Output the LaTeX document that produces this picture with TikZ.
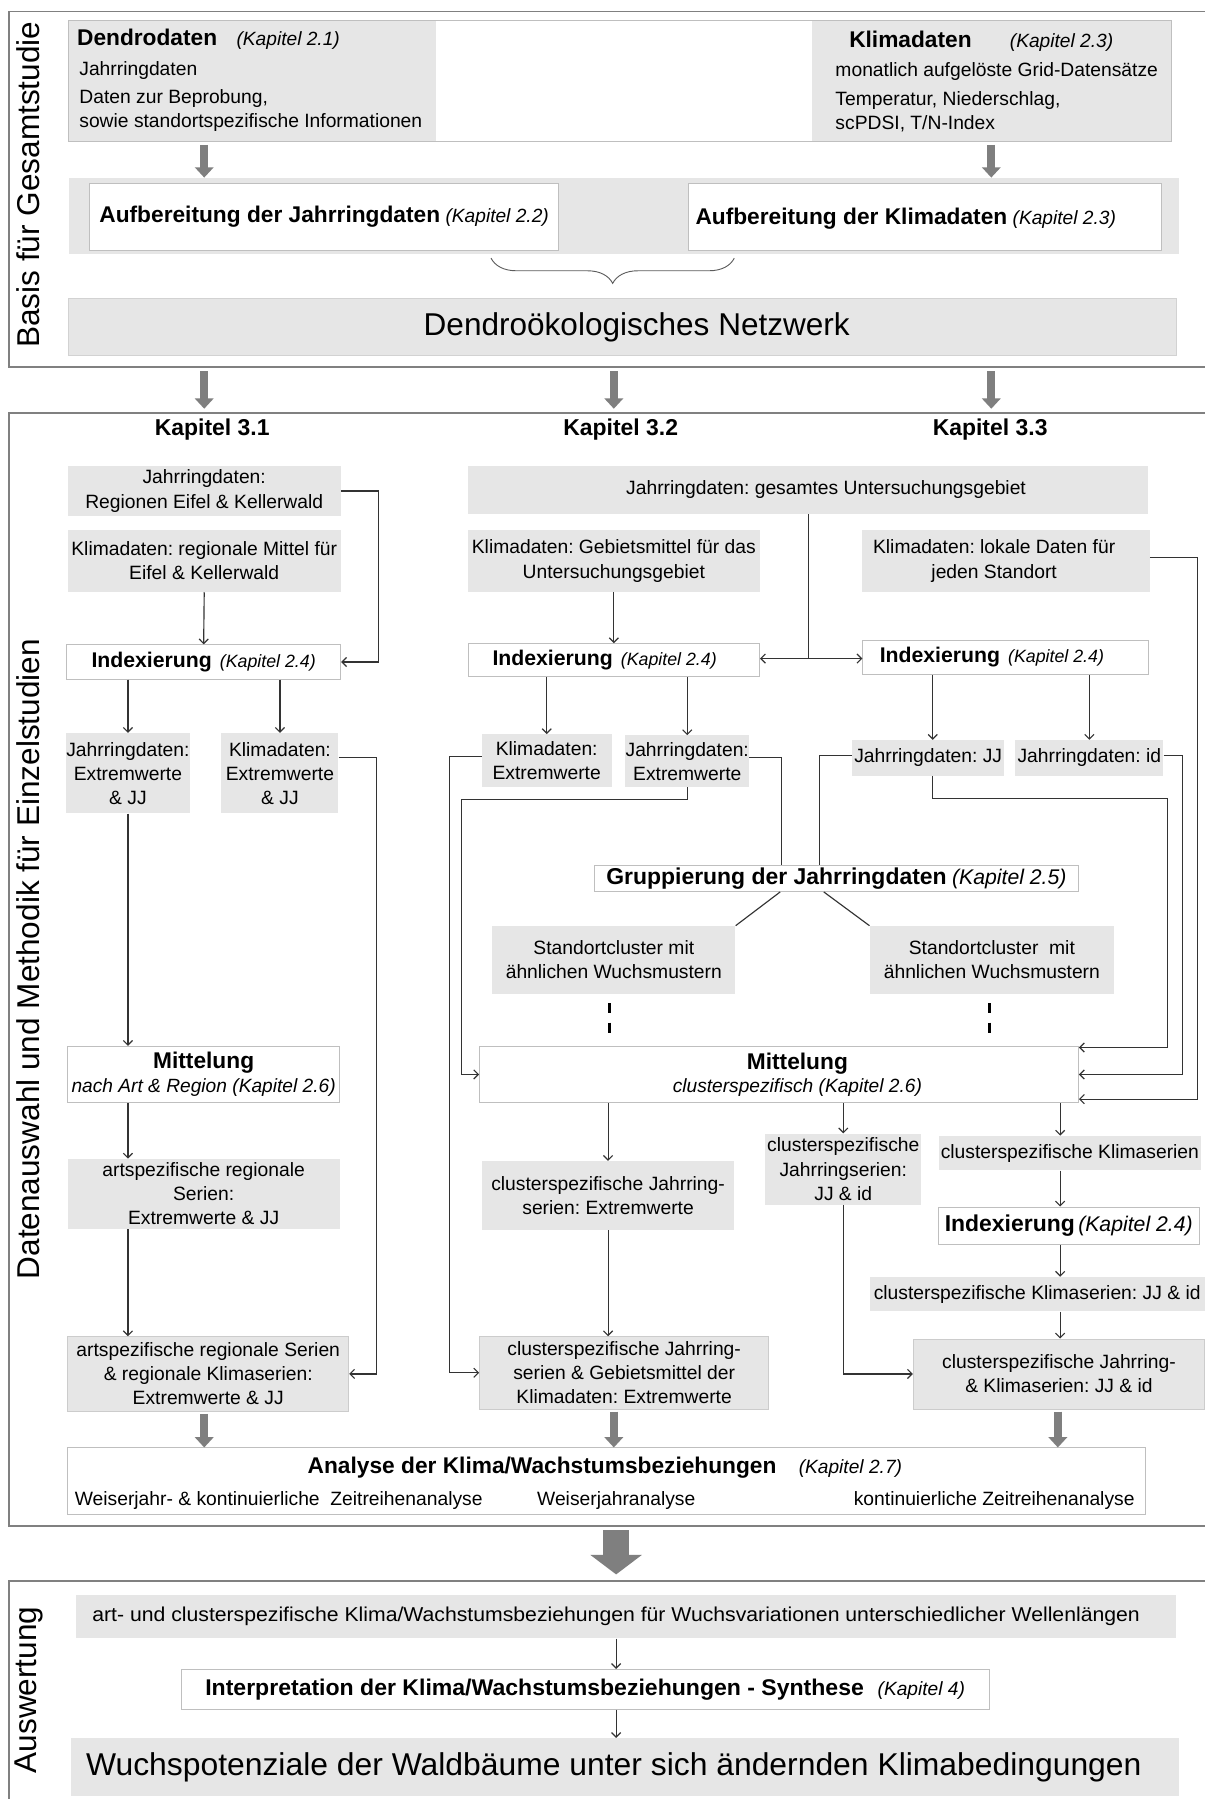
\documentclass[tikz,border=0pt]{standalone}
\usepackage{fontspec}
\setmainfont{Liberation Sans}
\usepackage{graphicx}
\usetikzlibrary{arrows.meta,decorations.pathreplacing,calc}
\definecolor{boxgray}{HTML}{E6E6E6}
\definecolor{framegray}{HTML}{808080}
\definecolor{arrgray}{HTML}{7F7F7F}
\definecolor{lineD}{HTML}{333333}
\definecolor{wborder}{HTML}{BFBFBF}
\newcommand\fsN{\fontsize{16.8}{21}\selectfont}
\newcommand\fsB{\fontsize{19.8}{23}\selectfont\bfseries}
\newcommand\fsK{\fontsize{16.7}{21}\selectfont\itshape}
\newcommand\mykap[1]{{\fsK(Kapitel #1)}}
\newcommand\idxtext{{\fontsize{18.5}{22}\selectfont\bfseries Indexierung}\hspace{7pt}{\fontsize{15.5}{20}\selectfont\itshape(Kapitel 2.4)}}
\frenchspacing
\begin{document}
\frenchspacing
\begin{tikzpicture}[x=1pt,y=-1pt,
  gbox/.style={fill=boxgray, draw=none, inner sep=0pt, align=center, font=\fsN},
  gboxb/.style={gbox, draw=wborder!80, line width=0.7pt},
  wbox/.style={fill=white, draw=wborder, line width=0.8pt, inner sep=0pt, align=center, font=\fsN},
  frame/.style={draw=framegray, line width=1.5pt, inner sep=0pt},
  conn/.style={draw=lineD, line width=1pt},
  arr/.style={conn, -{Straight Barb[length=4pt,width=8pt]}},
  thickarr/.style={draw=arrgray, line width=7pt, -{Triangle[length=9pt,width=16pt]}},
  bigarr/.style={draw=arrgray, line width=22pt, -{Triangle[length=17pt,width=44pt]}},
  txt/.style={inner sep=0pt, anchor=base west, font=\fsN},
  vlabel/.style={rotate=90, inner sep=0pt, font=\fontsize{27.5}{30}\selectfont},
  dashv/.style={draw=black, line width=2.5pt, dash pattern=on 9pt off 8pt},
]
\useasboundingbox (0,0) rectangle (1050,1568);
\fill[white] (0,0) rectangle (1050,1568);

% frames
\node[frame, minimum width=1044pt, minimum height=310pt] (frame1) at (530,165) {};
\node[frame, minimum width=1044pt, minimum height=970pt] (frame2) at (530,845) {};
\node[frame, minimum width=1044pt, minimum height=210pt] (frame3) at (530,1483) {};
\node[vlabel] (lab1) at (25,161) {Basis für Gesamtstudie};
\node[vlabel] (lab2) at (25,836) {Datenauswahl und Methodik für Einzelstudien};
\node[vlabel] (lab3) at (25,1473) {Auswertung};

\coordinate (colA) at (178,0);
\coordinate (colB) at (535,0);
\coordinate (colC) at (864,0);
\coordinate (colC2) at (922,0);
\coordinate (colM) at (537,0);
\coordinate (colR) at (924,0);

% ---------- top section
\node[gbox, minimum width=320pt, minimum height=105pt] (dendro) at (220,70.5) {};
\node[gbox, minimum width=313pt, minimum height=105pt] (klima) at (864.5,70.5) {};
\node[draw=wborder, line width=0.8pt, minimum width=961pt, minimum height=105pt, inner sep=0pt] (topbox) at (540.5,70.5) {};
\node[txt, font=\fsB] (dendroT) at (67,40) {Dendrodaten};
\node[txt, font=\fsK] (dendroK) at (206,40) {(Kapitel 2.1)};
\node[txt] (dendro1) at (69,66) {Jahrringdaten};
\node[txt] (dendro2) at (69,90) {Daten zur Beprobung,};
\node[txt] (dendro3) at (69,111) {sowie standortspezifische Informationen};
\node[txt, font=\fsB] (klimaT) at (740,41) {Klimadaten};
\node[txt, font=\fsK] (klimaK) at (880,41) {(Kapitel 2.3)};
\node[txt] (klima1) at (728,67) {monatlich aufgelöste Grid-Datensätze};
\node[txt] (klima2) at (728,92) {Temperatur, Niederschlag,};
\node[txt] (klima3) at (728,113) {scPDSI, T/N-Index};

\node[gbox, minimum width=968pt, minimum height=66pt] (band) at (544,188) {};
\node[wbox, minimum width=409pt, minimum height=58pt] (aufJ) at (282.5,189) {\raisebox{-2pt}{{\fsB Aufbereitung der Jahrringdaten} \mykap{2.2}}};
\node[wbox, minimum width=412pt, minimum height=58pt] (aufK) at (806,189) {};
\node[txt] (aufKt) at (606,196) {{\fsB Aufbereitung der Klimadaten} \mykap{2.3}};

\draw[thickarr] ($(dendro.south -| colA)+(0,3)$) -- (band.north -| colA);
\draw[thickarr] ($(klima.south -| colC)+(0,3)$) -- (band.north -| colC);

\coordinate (brL) at (428,225);
\coordinate (brR) at (640,225);
\draw[draw=lineD!80, line width=0.8pt, decorate, decoration={brace, mirror, amplitude=22pt}] (brL) -- (brR);

\node[gbox, draw=wborder!70, line width=0.7pt, minimum width=965pt, minimum height=50pt] (netz) at (542.5,285) {};
\node[inner sep=0pt, font=\fontsize{27.5}{30}\selectfont] (netzT) at (555,285) {Dendroökologisches Netzwerk};

\draw[thickarr] ($(frame1.south -| colA)+(0,3)$) -- ($(frame2.north -| colA)+(0,-3)$);
\draw[thickarr] ($(frame1.south -| colB)+(0,3)$) -- ($(frame2.north -| colB)+(0,-3)$);
\draw[thickarr] ($(frame1.south -| colC)+(0,3)$) -- ($(frame2.north -| colC)+(0,-3)$);

% ---------- section 2
\node[font=\fontsize{20}{24}\selectfont\bfseries, anchor=base, inner sep=0pt] (k31) at (185,380) {Kapitel 3.1};
\node[font=\fontsize{20}{24}\selectfont\bfseries, anchor=base, inner sep=0pt] (k32) at (541,380) {Kapitel 3.2};
\node[font=\fontsize{20}{24}\selectfont\bfseries, anchor=base, inner sep=0pt] (k33) at (863,380) {Kapitel 3.3};

% column 1
\node[gbox, minimum width=238pt, minimum height=44pt] (c1jahr) at (178,428) {Jahrringdaten:\\Regionen Eifel \& Kellerwald};
\node[gbox, minimum width=238pt, minimum height=54pt] (c1klima) at (178,489) {Klimadaten: regionale Mittel für\\Eifel \& Kellerwald};
\node[wbox, minimum width=239pt, minimum height=30pt] (c1idx) at (177.5,577) {\idxtext};
\node[gbox, minimum width=107pt, minimum height=70pt] (c1jx) at (111.5,674) {Jahrringdaten:\\Extremwerte\\\& JJ};
\node[gbox, minimum width=102pt, minimum height=70pt] (c1kx) at (244,674) {Klimadaten:\\Extremwerte\\\& JJ};
\node[wbox, minimum width=237pt, minimum height=49pt] (c1mit) at (177.5,936.5) {{\fsB Mittelung}\\{\fsK nach Art \& Region (Kapitel 2.6)}};
\node[gbox, minimum width=237pt, minimum height=61pt] (c1art) at (177.5,1040.5) {artspezifische regionale\\Serien:\\Extremwerte \& JJ};
\node[gboxb, minimum width=245pt, minimum height=65pt] (c1fin) at (181.5,1197.5) {artspezifische regionale Serien\\\& regionale Klimaserien:\\Extremwerte \& JJ};

\draw[arr] (c1jahr.east) -- ++(33,0) |- (c1idx.east);
\draw[arr] (c1klima.south) -- (c1idx.north);
\draw[arr] (c1idx.south -| c1jx.north) -- (c1jx.north);
\draw[arr] (c1idx.south -| c1kx.north) -- (c1kx.north);
\draw[arr] ($(c1kx.east)+(0,-14)$) -- ++(33,0) |- (c1fin.east);
\draw[arr] (c1jx.south) -- (c1jx.south |- c1mit.north);
\draw[arr] (c1mit.south -| c1jx.south) -- (c1art.north -| c1jx.south);
\draw[arr] (c1art.south -| c1jx.south) -- (c1fin.north -| c1jx.south);

% column 2
\node[gbox, minimum width=593pt, minimum height=42pt] (c2jahr) at (704.5,427) {\hspace*{31pt}Jahrringdaten: gesamtes Untersuchungsgebiet};
\node[gbox, minimum width=254pt, minimum height=54pt] (c2klima) at (535,489) {Klimadaten: Gebietsmittel für das\\Untersuchungsgebiet};
\node[wbox, minimum width=254pt, minimum height=29pt] (c2idx) at (535,575.5) {\hspace*{-16pt}\idxtext};
\node[gbox, minimum width=113pt, minimum height=46pt] (c2kx) at (476.5,663) {Klimadaten:\\Extremwerte};
\node[gbox, minimum width=108pt, minimum height=45pt] (c2jx) at (599,663.5) {Jahrringdaten:\\Extremwerte};
\node[wbox, minimum width=422pt, minimum height=23pt] (c2grp) at (729,765.5) {{\fontsize{20}{23}\selectfont\bfseries Gruppierung der Jahrringdaten} {\fontsize{18.5}{22}\selectfont\itshape(Kapitel 2.5)}};
\node[gbox, minimum width=212pt, minimum height=59pt] (c2sc1) at (535,836.5) {Standortcluster mit\\ähnlichen Wuchsmustern};
\node[gbox, minimum width=213pt, minimum height=59pt] (c2sc2) at (864.5,836.5) {Standortcluster\ \ mit\\ähnlichen Wuchsmustern};
\node[wbox, minimum width=522pt, minimum height=49pt] (c2mit) at (679,936.5) {};
\node[inner sep=0pt, align=center] (c2mitT) at (695,936.5) {{\fsB Mittelung}\\[3pt]{\fsK clusterspezifisch (Kapitel 2.6)}};
\node[gbox, minimum width=220pt, minimum height=60pt] (c2cj) at (530,1042) {clusterspezifische Jahrring-\\serien: Extremwerte};
\node[gboxb, minimum width=252pt, minimum height=63pt] (c2fin) at (544,1196.5) {clusterspezifische Jahrring-\\serien \& Gebietsmittel der\\Klimadaten: Extremwerte};

% column 3
\node[gbox, minimum width=251pt, minimum height=54pt] (c3klima) at (876.5,489) {\hspace*{-20pt}Klimadaten: lokale Daten für\\\hspace*{-20pt}jeden Standort};
\node[wbox, minimum width=249pt, minimum height=30pt] (c3idx) at (876.5,573) {\hspace*{-24pt}\idxtext};
\node[gbox, minimum width=132pt, minimum height=31pt] (c3jj) at (809,660.5) {Jahrringdaten: JJ};
\node[gbox, minimum width=129pt, minimum height=31pt] (c3id) at (949.5,660.5) {Jahrringdaten: id};
\node[gbox, minimum width=136pt, minimum height=62pt] (c3cjs) at (735,1019) {clusterspezifische\\Jahrringserien:\\JJ \& id};
\node[gbox, minimum width=229pt, minimum height=30pt] (c3cks) at (932.5,1005) {clusterspezifische Klimaserien};
\node[wbox, minimum width=227pt, minimum height=33pt] (c3idx2) at (931.5,1068.5) {{\fontsize{20}{24}\selectfont\bfseries Indexierung}\hspace{3pt}{\fontsize{18.5}{22}\selectfont\itshape(Kapitel 2.4)}};
\node[gbox, minimum width=292pt, minimum height=30pt] (c3ckjj) at (904,1128) {clusterspezifische Klimaserien: JJ \& id};
\node[gboxb, minimum width=254pt, minimum height=61pt] (c3fin) at (923,1197.5) {clusterspezifische Jahrring-\\\& Klimaserien: JJ \& id};

% connectors col 2/3
\coordinate (split) at (705,574);
\draw[conn] (c2jahr.south -| split) -- (split);
\draw[arr] (split) -- (split -| c2idx.east);
\draw[arr] (split) -- (split -| c3idx.west);
\draw[arr] (c2klima.south) -- (c2idx.north);
\draw[arr] (c2idx.south -| c2kx.north) -- (c2kx.north);
\draw[arr] (c2idx.south -| c2jx.north) -- (c2jx.north);
\draw[arr] ($(c2kx.west)+(0,-4)$) -| ($(c2fin.west)+(-26,0)$) -- (c2fin.west);
\draw[arr] (c2jx.south) -- ++(0,11) -| ($(c2mit.west)+(-15,0)$) -- (c2mit.west);
\draw[conn] ($(c2jx.east)+(0,-3)$) -| ($(c2grp.north)+(-48,0)$);
\draw[conn] ($(c3jj.west)+(0,-2)$) -| ($(c2grp.north)+(-15,0)$);
\draw[conn] ($(c2grp.south)+(-49,0)$) -- (c2sc1.north east);
\draw[conn] ($(c2grp.south)+(-11,0)$) -- (c2sc2.north west);
\draw[dashv] ($(c2sc1.south)+(-4,8)$) -- ++(0,26);
\draw[dashv] ($(c2sc2.south)+(-2,8)$) -- ++(0,26);
\draw[arr] (c2cj.north |- c2mit.south) -- (c2cj.north);
\draw[arr] (c2cj.south) -- (c2cj.south |- c2fin.north);
\draw[arr] (c3cjs.north |- c2mit.south) -- (c3cjs.north);
\draw[arr] (c2mit.south -| colR) -- (c3cks.north -| colR);
\draw[arr] (c3cks.south -| colR) -- (c3idx2.north -| colR);
\draw[arr] (c3idx2.south -| colR) -- (c3ckjj.north -| colR);
\draw[arr] (c3ckjj.south -| colR) -- (c3fin.north -| colR);
\draw[arr] (c3cjs.south) |- (c3fin.west);

\draw[arr] ($(c3idx.south -| c3jj.north)+(4,0)$) -- ($(c3jj.north)+(4,0)$);
\draw[arr] (c3idx.south -| c3id.north) -- (c3id.north);
\draw[arr] ($(c3jj.south)+(4,0)$) -- ++(0,20) -| ($(c2mit.east)+(77,-23.5)$) -- ($(c2mit.east)+(0,-23.5)$);
\draw[arr] ($(c3id.east)+(0,-2)$) -| ($(c2mit.east)+(90,0)$) -- (c2mit.east);
\draw[arr] ($(c3klima.east)+(0,-3)$) -| ($(c2mit.east)+(103,21.5)$) -- ($(c2mit.east)+(0,21.5)$);

% analyse
\node[wbox, minimum width=939pt, minimum height=58pt] (anal) at (528.5,1291) {};
\node[txt, font=\fsB] (analT) at (268,1284) {Analyse der Klima/Wachstumsbeziehungen};
\node[txt, font=\fsK] (analK) at (696,1284) {(Kapitel 2.7)};
\node[txt] (anal1) at (65,1312) {Weiserjahr- \& kontinuierliche\ \ Zeitreihenanalyse};
\node[txt] (anal2) at (468,1312) {Weiserjahranalyse};
\node[txt] (anal3) at (744,1312) {kontinuierliche Zeitreihenanalyse};

\draw[thickarr] ($(c1fin.south -| colA)+(0,2)$) -- (anal.north -| colA);
\draw[thickarr] ($(c2fin.south -| colB)+(0,2)$) -- (anal.north -| colB);
\draw[thickarr] ($(c3fin.south -| colC2)+(0,2)$) -- (anal.north -| colC2);

\draw[bigarr] ($(frame2.south -| colM)+(0,3)$) -- ($(frame3.north -| colM)+(0,-5)$);

% ---------- section 3
\node[gbox, minimum width=959pt, minimum height=38pt] (s3a) at (545.5,1409) {\hspace*{-17pt}\resizebox{913pt}{\height}{\fontsize{17.5}{20}\selectfont art- und clusterspezifische Klima/Wachstumsbeziehungen für Wuchsvariationen unterschiedlicher Wellenlängen}};
\node[wbox, minimum width=704pt, minimum height=35pt] (s3int) at (510,1472.5) {\resizebox{574pt}{\height}{\fsB Interpretation der Klima/Wachstumsbeziehungen - Synthese}\hspace{12pt}{\fsK(Kapitel 4)}};
\node[gbox, minimum width=966pt, minimum height=50pt] (s3w) at (545,1540) {\hspace*{-20pt}\resizebox{920pt}{\height}{\fontsize{27.5}{30}\selectfont Wuchspotenziale der Waldbäume unter sich ändernden Klimabedingungen}};

\draw[arr] (s3a.south -| colM) -- (s3int.north -| colM);
\draw[arr] (s3int.south -| colM) -- (s3w.north -| colM);
\end{tikzpicture}
\end{document}
